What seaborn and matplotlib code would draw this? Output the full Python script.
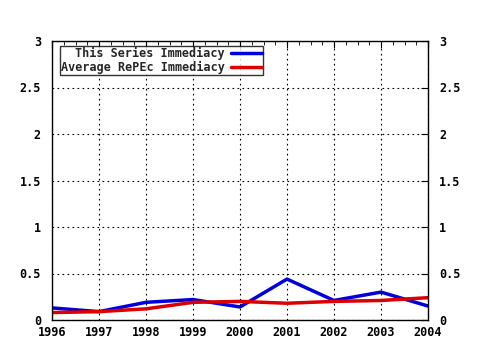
import matplotlib
matplotlib.use("Agg")
import matplotlib.pyplot as plt
import seaborn as sns
import pandas as pd
from matplotlib.ticker import MultipleLocator

years = [1996, 1997, 1998, 1999, 2000, 2001, 2002, 2003, 2004]
series_immediacy = [0.13, 0.09, 0.19, 0.22, 0.14, 0.44, 0.21, 0.30, 0.15]
repec_immediacy = [0.08, 0.09, 0.12, 0.19, 0.20, 0.18, 0.20, 0.21, 0.24]
labels = ["This Series Immediacy", "Average RePEc Immediacy"]
y_ticks = [0, 0.5, 1, 1.5, 2, 2.5, 3]
y_tick_labels = ["0", "0.5", "1", "1.5", "2", "2.5", "3"]

sns.set_style("white")
plt.rcParams['font.family'] = ['DejaVu Sans Mono']
plt.rcParams['font.weight'] = 'bold'

df = pd.DataFrame({
    "year": years * 2,
    "value": series_immediacy + repec_immediacy,
    "series": [labels[0]] * len(years) + [labels[1]] * len(years),
})

fig = plt.figure(figsize=(4.8, 3.5), dpi=100)
ax = fig.add_axes([52 / 480, 30 / 350, 376 / 480, 279 / 350])
sns.lineplot(data=df, x="year", y="value", hue="series",
             palette=["#0000dd", "#dd0000"], linewidth=2.5, ax=ax)

ax.set_xlim(1996, 2004)
ax.set_ylim(0, 3)
ax.set_xticks(years)
ax.set_xticklabels([str(y) for y in years])
ax.xaxis.set_minor_locator(MultipleLocator(0.25))
ax.set_yticks(y_ticks)
ax.set_yticklabels(y_tick_labels)
ax.set_xlabel("")
ax.set_ylabel("")
ax.grid(True, which="major", color="black", linestyle=(0, (1.5, 3)), linewidth=0.8)
for s in ax.spines.values():
    s.set_color("black")
    s.set_linewidth(1)
ax.tick_params(axis="both", which="both", direction="in", top=True, right=True,
               labelright=True, labelsize=8.5, colors="black")
ax.tick_params(axis="x", which="major", length=5, pad=4)
ax.tick_params(axis="x", which="minor", length=3)
ax.tick_params(axis="y", which="major", length=5, pad=8)
for t in ax.get_xticklabels() + ax.get_yticklabels():
    t.set_fontweight("bold")

leg = ax.legend(loc="upper left", bbox_to_anchor=(0.015, 0.99), markerfirst=False,
                frameon=True, fancybox=False, edgecolor="black", fontsize=8.5,
                borderpad=0.1, labelspacing=0.05, handlelength=2.6,
                handletextpad=0.5, borderaxespad=0.2)
leg.get_frame().set_linewidth(1)
for t in leg.get_texts():
    t.set_fontweight("bold")
    t.set_ha("right")
for line in leg.get_lines():
    line.set_linewidth(2.5)

fig.savefig("out.png", dpi=100, facecolor="white")
